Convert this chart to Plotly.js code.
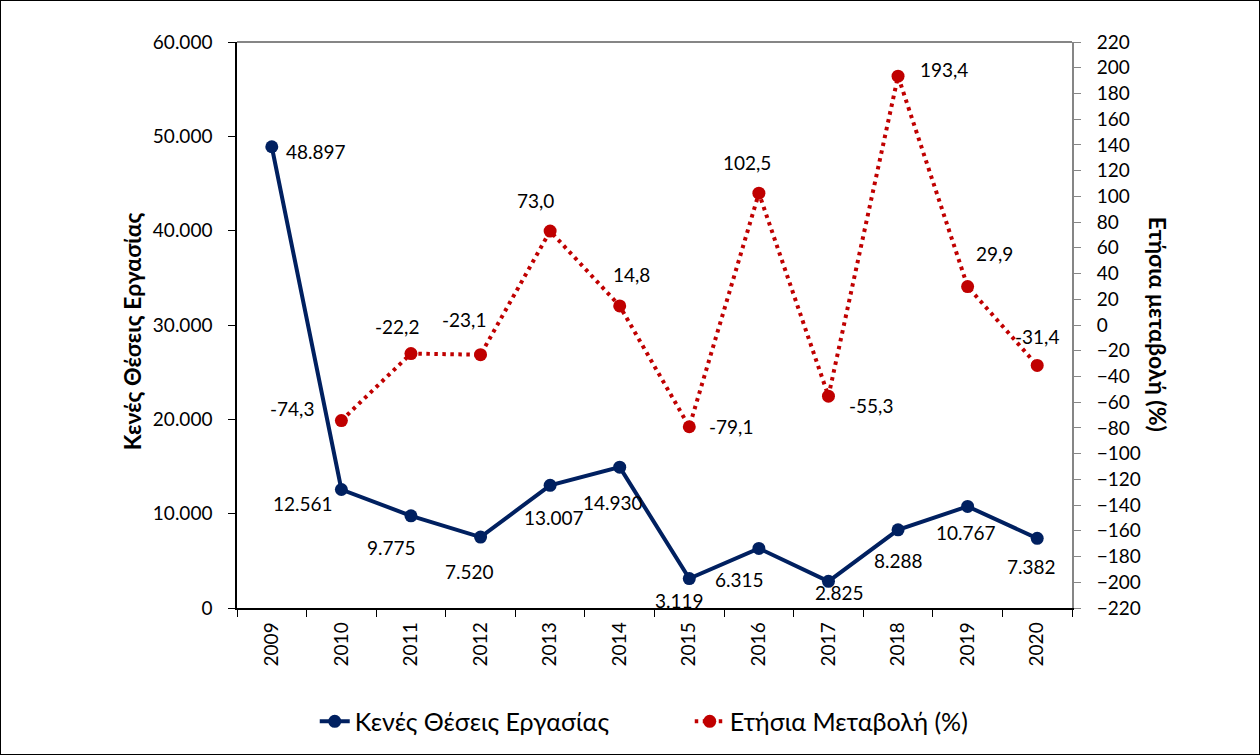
<!DOCTYPE html>
<html><head><meta charset="utf-8">
<script src="https://cdn.plot.ly/plotly-3.0.1.min.js"></script>
<style>body{margin:0;}#c{width:1260px;height:755px;box-sizing:border-box;border:1px solid #000;}</style>
</head><body><div id="c"></div>
<script>
const years = ['2009','2010','2011','2012','2013','2014','2015','2016','2017','2018','2019','2020'];
const vacancies = [48897,12561,9775,7520,13007,14930,3119,6315,2825,8288,10767,7382];
const vacancyLabels = ['48.897','12.561','9.775','7.520','13.007','14.930','3.119','6.315','2.825','8.288','10.767','7.382'];
const changeYears = ['2010','2011','2012','2013','2014','2015','2016','2017','2018','2019','2020'];
const change = [-74.3,-22.2,-23.1,73.0,14.8,-79.1,102.5,-55.3,193.4,29.9,-31.4];
const changeLabels = ['-74,3','-22,2','-23,1','73,0','14,8','-79,1','102,5','-55,3','193,4','29,9','-31,4'];
const leftTicks = [0,10000,20000,30000,40000,50000,60000];
const leftTickText = ['0','10.000','20.000','30.000','40.000','50.000','60.000'];
const rightTicks = [];
for (let v=-220; v<=220; v+=20) rightTicks.push(v);

const FONT = 'Lato, "Open Sans", sans-serif';
// label offsets in px [dx, dy(up)] (style, not data)
const vOff = [[44,-5],[-38,-14],[-19,-32],[-11,-34],[4,-32],[-7,-35],[-10,-22],[-19,-31],[11,-11],[0,-31],[-2,-26],[-6,-28]];
const cOff = [[-49,12],[-14,27],[-17,35],[-15,31],[12,31],[42,0],[-12,31],[43,-9],[46,7],[27,33],[0,29]];

const annotations = [];
vacancies.forEach((v,i)=>annotations.push({x:years.indexOf(years[i]),y:v,xref:'x',yref:'y',text:vacancyLabels[i],showarrow:false,xshift:vOff[i][0],yshift:vOff[i][1],font:{family:FONT,size:19,color:'#000'}}));
change.forEach((v,i)=>annotations.push({x:years.indexOf(changeYears[i]),y:v,xref:'x',yref:'y2',text:changeLabels[i],showarrow:false,xshift:cOff[i][0],yshift:cOff[i][1],font:{family:FONT,size:19,color:'#000'}}));
annotations.push({xref:'paper',yref:'paper',x:-0.1257,y:0.489,xanchor:'center',yanchor:'middle',text:'<b>Κενές Θέσεις Εργασίας</b>',textangle:-90,showarrow:false,font:{family:FONT,size:23,color:'#000'}});
annotations.push({xref:'paper',yref:'paper',x:1.103,y:0.502,xanchor:'center',yanchor:'middle',text:'<b>Ετήσια μεταβολή (%)</b>',textangle:90,showarrow:false,font:{family:FONT,size:23,color:'#000'}});

const data = [
 {x:years,y:vacancies,type:'scatter',mode:'lines+markers',name:'Κενές Θέσεις Εργασίας',line:{color:'#002060',width:4},marker:{color:'#002060',size:13},yaxis:'y'},
 {x:changeYears,y:change,type:'scatter',mode:'lines+markers',name:'Ετήσια Μεταβολή (%)',line:{color:'#C00000',width:4,dash:'3.5px,4.5px'},marker:{color:'#C00000',size:13},yaxis:'y2'}
];
const layout = {
 width:1258,height:753,paper_bgcolor:'#fff',plot_bgcolor:'#fff',
 margin:{l:236,r:187,t:41,b:146},
 font:{family:FONT,size:19,color:'#000'},
 showlegend:true,
 legend:{orientation:'h',x:0.2494,xanchor:'left',xref:'container',y:0.043,yref:'container',yanchor:'middle',font:{family:FONT,size:25},tracegroupgap:0,entrywidth:330,entrywidthmode:'pixels'},
 xaxis:{type:'category',categoryorder:'array',categoryarray:years,range:[-0.5,11.5],showline:true,linecolor:'#000',linewidth:1.5,ticks:'outside',tickson:'boundaries',ticklen:7,tickcolor:'#000',tickangle:-90,ticklabelstandoff:5,showgrid:false,zeroline:false,tickfont:{family:FONT,size:19}},
 yaxis:{range:[0,60000],tickvals:leftTicks,ticktext:leftTickText,showline:true,linecolor:'#000',linewidth:1.5,ticks:'outside',ticklen:7,tickcolor:'#000',ticklabelstandoff:12,showgrid:false,zeroline:false,tickfont:{family:FONT,size:19}},
 yaxis2:{overlaying:'y',side:'right',range:[-220,220],tickvals:rightTicks,showline:true,linecolor:'#868686',linewidth:2,ticks:'outside',ticklen:7,tickcolor:'#868686',ticklabelstandoff:12,showgrid:false,zeroline:false,tickfont:{family:FONT,size:19}},
 shapes:[{type:'line',xref:'paper',yref:'paper',x0:0,x1:1,y0:1,y1:1,line:{color:'#868686',width:2}}],
 annotations:annotations
};
Plotly.newPlot('c',data,layout,{displayModeBar:false});
</script></body></html>
